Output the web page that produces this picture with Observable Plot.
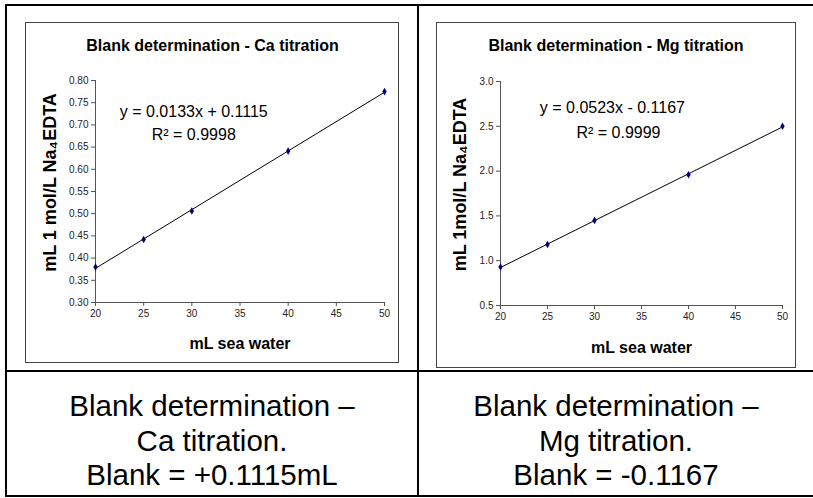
<!DOCTYPE html>
<html><head><meta charset="utf-8">
<script src="https://cdn.jsdelivr.net/npm/d3@7"></script>
<script src="https://cdn.jsdelivr.net/npm/@observablehq/plot@0.6"></script>
<style>
html,body{margin:0;padding:0;background:#fff;}
body{width:813px;height:498px;position:relative;overflow:hidden;font-family:"Liberation Sans",Arial,sans-serif;}
.ln{position:absolute;background:#000;}
.frame{position:absolute;border:1px solid #444;box-sizing:border-box;background:#fff;}
.cap{position:absolute;text-align:center;font-size:29.5px;line-height:34.5px;color:#000;white-space:nowrap;}
.chart{position:absolute;}
</style></head><body>
<div class="ln" style="left:5px;top:4px;width:808px;height:2px"></div>
<div class="ln" style="left:5px;top:4px;width:2px;height:493px"></div>
<div class="ln" style="left:417px;top:4px;width:2px;height:493px"></div>
<div class="ln" style="left:5px;top:370px;width:808px;height:2px"></div>
<div class="ln" style="left:5px;top:495px;width:808px;height:2px"></div>
<div class="frame" style="left:25px;top:22px;width:374px;height:341px"></div>
<div class="frame" style="left:436px;top:22px;width:360px;height:346px"></div>
<div class="chart" id="ca" style="left:26px;top:23px"></div>
<div class="chart" id="mg" style="left:437px;top:23px"></div>
<div class="cap" id="capCa" style="left:7px;width:410px;top:389px"></div>
<div class="cap" id="capMg" style="left:419px;width:394px;top:389px"></div>
<script>
// ---- data ----
const seaWater = [20, 25, 30, 40, 50];
const caTitrant = [0.380, 0.442, 0.506, 0.641, 0.775];
const mgTitrant = [0.93, 1.18, 1.45, 1.96, 2.50];
const xTicks = [20, 25, 30, 35, 40, 45, 50];
const caTicks = [0.30, 0.35, 0.40, 0.45, 0.50, 0.55, 0.60, 0.65, 0.70, 0.75, 0.80];
const mgTicks = [0.5, 1.0, 1.5, 2.0, 2.5, 3.0];
const caTitle = "Blank determination - Ca titration";
const mgTitle = "Blank determination - Mg titration";
const caYLabel = "mL 1 mol/L Na\u2084EDTA";
const mgYLabel = "mL 1mol/L Na\u2084EDTA";
const xLabel = "mL sea water";
const caEquation = ["y = 0.0133x + 0.1115", "R\u00b2 = 0.9998"];
const caEqX = [30.2, 30.2];
const caEqY = [0.717, 0.665];
const mgEquation = ["y = 0.0523x - 0.1167", "R\u00b2 = 0.9999"];
const mgEqX = [31.9, 32.55];
const mgEqY = [2.643, 2.375];
const caCaption = ["Blank determination \u2013", "Ca titration.", "Blank = +0.1115mL"];
const mgCaption = ["Blank determination \u2013", "Mg titration.", "Blank = -0.1167"];

const axisColor = "#555";
const FONT = "Liberation Sans, Arial, sans-serif";

function chart(cfg) {
  const data = seaWater.map((x, i) => ({x, y: cfg.values[i]}));
  const eq = cfg.eq.map((t, i) => ({t, x: cfg.eqX[i], y: cfg.eqY[i]}));
  return Plot.plot({
    width: cfg.width, height: cfg.height,
    marginTop: cfg.mt, marginBottom: cfg.mb, marginLeft: cfg.ml, marginRight: cfg.mr,
    x: {domain: [20, 50]},
    y: {domain: [cfg.yTicks[0], cfg.yTicks[cfg.yTicks.length - 1]]},
    style: {fontFamily: FONT, color: "#000", background: "transparent", overflow: "visible"},
    marks: [
      Plot.ruleY([cfg.yTicks[0]], {stroke: axisColor}),
      Plot.ruleX([20], {stroke: axisColor}),
      Plot.axisX({ticks: xTicks, tickSize: 4, tickPadding: 3, fontSize: 10, label: null, stroke: axisColor, fill: "#222"}),
      Plot.axisY({ticks: cfg.yTicks, tickFormat: cfg.fmt, tickSize: 4, tickPadding: 3, fontSize: 10, label: null, stroke: axisColor, fill: "#222"}),
      Plot.linearRegressionY(data, {x: "x", y: "y", stroke: "#000", strokeWidth: 1, ci: 0}),
      Plot.dot(data, {x: "x", y: "y", symbol: "diamond", r: 2.3, fill: "#000080", stroke: null}),
      Plot.text(eq, {x: "x", y: "y", text: "t", fontSize: 16, lineAnchor: "bottom", textAnchor: "middle", fill: "#000"}),
      Plot.text([cfg.title], {frameAnchor: "top", dx: cfg.titleDx, dy: cfg.titleDy, lineAnchor: "bottom", textAnchor: "middle", fontSize: 16, fontWeight: "bold", fill: "#000"}),
      Plot.text([xLabel], {frameAnchor: "bottom", dy: cfg.xlDy, lineAnchor: "bottom", textAnchor: "middle", fontSize: 16, fontWeight: "bold", fill: "#000"}),
      Plot.text([cfg.yLabel], {frameAnchor: "left", dx: cfg.ylDx, dy: cfg.ylDy, rotate: -90, lineAnchor: "middle", textAnchor: "middle", fontSize: 18, fontWeight: "bold", fill: "#000"})
    ]
  });
}

document.getElementById("ca").append(chart({
  values: caTitrant, yTicks: caTicks, fmt: d3.format(".2f"),
  width: 372, height: 339, mt: 57, mb: 60, ml: 69, mr: 14,
  eq: caEquation, eqX: caEqX, eqY: caEqY,
  title: caTitle, titleDx: -27.5, titleDy: -30,
  yLabel: caYLabel, ylDx: -45, ylDy: -9, xlDy: 46
}));
document.getElementById("mg").append(chart({
  values: mgTitrant, yTicks: mgTicks, fmt: d3.format(".1f"),
  width: 358, height: 344, mt: 58, mb: 62, ml: 63, mr: 13,
  eq: mgEquation, eqX: mgEqX, eqY: mgEqY,
  title: mgTitle, titleDx: -25.5, titleDy: -31,
  yLabel: mgYLabel, ylDx: -40, ylDy: -9, xlDy: 47
}));
document.getElementById("capCa").innerHTML = caCaption.join("<br>");
document.getElementById("capMg").innerHTML = mgCaption.join("<br>");
</script>
</body></html>
